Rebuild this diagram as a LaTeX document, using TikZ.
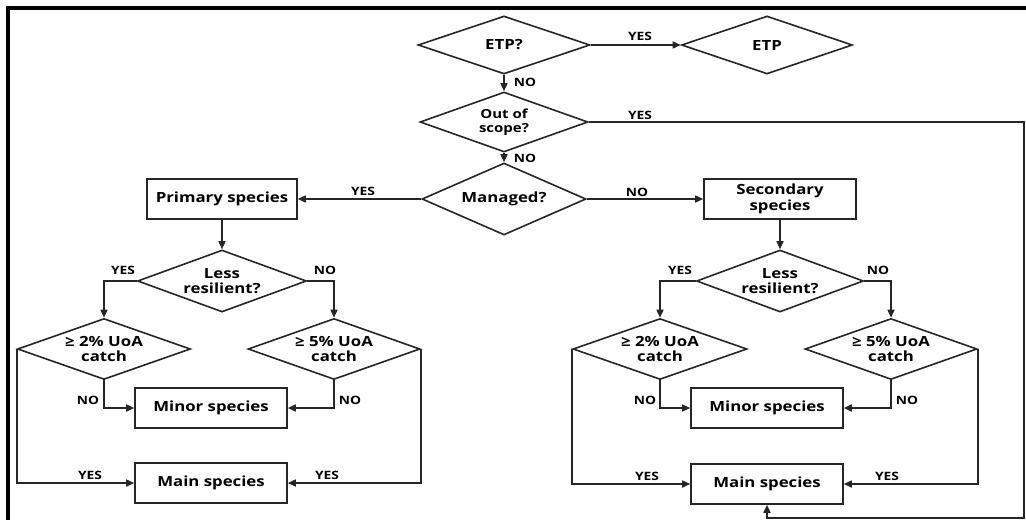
\documentclass[tikz,border=0pt]{standalone}
\usepackage{fontspec}
\setmainfont{Open Sans}[FakeStretch=1.2]
\usetikzlibrary{shapes.geometric,arrows.meta}
\begin{document}
\begin{tikzpicture}[x=1pt,y=-1pt,
  ln/.style={draw=black!85, line width=1.6pt},
  conn/.style={ln, -{Triangle[length=8pt,width=7pt]}},
  dia/.style={diamond, ln, inner sep=0pt, fill=white},
  box/.style={rectangle, ln, minimum width=152pt, minimum height=40pt, inner sep=0pt,
    align=center, font=\bfseries\fontsize{14}{15.5}\selectfont},
  dtxt/.style={align=center, inner sep=0pt, font=\bfseries\fontsize{14}{15.5}\selectfont},
  lab/.style={inner sep=0pt, font=\bfseries\fontsize{11.5}{12}\selectfont}]
\useasboundingbox (0,0) rectangle (1026,520);
% frame
\draw[line width=3.5pt, black] (8,520) -- (8,8) -- (1026,8);
% top decisions
\node[dia, minimum width=172pt, minimum height=58pt] (etpq) at (504,45) {};
\node[dtxt] (etpqt) at (etpq) {ETP?};
\node[dia, minimum width=171pt, minimum height=58pt] (etp) at (767,45) {};
\node[dtxt] (etpt) at (etp) {ETP};
\node[dia, minimum width=168pt, minimum height=60pt] (oos) at (504,122) {};
\node[dtxt, font=\bfseries\fontsize{12.5}{14.5}\selectfont] (oost) at (oos) {Out of\\scope?};
\node[dia, minimum width=164pt, minimum height=72pt] (man) at (504,199) {};
\node[dtxt] (mant) at (man) {Managed?};
% species boxes
\node[box, minimum width=150pt] (prim) at (222,199) {Primary species};
\node[box] (sec) at (780,199) {Secondary\\species};
% left branch
\node[dia, minimum width=169pt, minimum height=62pt] (lr1) at (222,281) {};
\node[dtxt] (lr1t) at (lr1) {Less\\resilient?};
\node[dia, minimum width=173pt, minimum height=61pt] (c21) at (104,349) {};
\node[dtxt] (c21t) at (c21) {≥ 2\% UoA\\catch};
\node[dia, minimum width=172pt, minimum height=61pt] (c51) at (334,349) {};
\node[dtxt] (c51t) at (c51) {≥ 5\% UoA\\catch};
\node[box] (min1) at (211,408) {Minor species};
\node[box] (main1) at (211,483) {Main species};
% right branch
\node[dia, minimum width=167pt, minimum height=62pt] (lr2) at (780,281) {};
\node[dtxt] (lr2t) at (lr2) {Less\\resilient?};
\node[dia, minimum width=174pt, minimum height=61pt] (c22) at (660,349) {};
\node[dtxt] (c22t) at (c22) {≥ 2\% UoA\\catch};
\node[dia, minimum width=172pt, minimum height=61pt] (c52) at (891,349) {};
\node[dtxt] (c52t) at (c52) {≥ 5\% UoA\\catch};
\node[box] (min2) at (767,408) {Minor species};
\node[box] (main2) at (767,484) {Main species};
% connectors top
\draw[conn] (etpq.east) -- (etp.west);
\draw[conn] (etpq.south) -- (oos.north);
\draw[conn] (oos.south) -- (man.north);
\coordinate (r1) at (1024,122);
\coordinate (r2) at (1024,518);
\draw[conn] (oos.east) -- (r1) -- (r2) -- (main2.south |- r2) -- (main2.south);
\draw[conn] (man.west) -- (prim.east);
\draw[conn] (man.east) -- (sec.west);
% left connectors
\draw[conn] (prim.south) -- (lr1.north);
\draw[conn] (lr1.west) -| (c21.north);
\draw[conn] (lr1.east) -| (c51.north);
\draw[conn] (c21.south) |- (min1.west);
\draw[conn] (c51.south) |- (min1.east);
\draw[conn] (c21.west) |- (main1.west);
\draw[conn] (c51.east) |- (main1.east);
% right connectors
\draw[conn] (sec.south) -- (lr2.north);
\draw[conn] (lr2.west) -| (c22.north);
\draw[conn] (lr2.east) -| (c52.north);
\draw[conn] (c22.south) |- (min2.west);
\draw[conn] (c52.south) |- (min2.east);
\draw[conn] (c22.west) |- (main2.west);
\draw[conn] (c52.east) |- (main2.east);
% labels
\node[lab] (l1) at (640,36) {YES};
\node[lab] (l2) at (525,82) {NO};
\node[lab] (l3) at (640,115) {YES};
\node[lab] (l4) at (525,158) {NO};
\node[lab] (l5) at (363,191) {YES};
\node[lab] (l6) at (637,192) {NO};
\node[lab] (l7) at (123,270) {YES};
\node[lab] (l8) at (325,270) {NO};
\node[lab] (l9) at (88,400) {NO};
\node[lab] (l10) at (350,400) {NO};
\node[lab] (l11) at (90,475) {YES};
\node[lab] (l12) at (327,475) {YES};
\node[lab] (l13) at (680,270) {YES};
\node[lab] (l14) at (878,270) {NO};
\node[lab] (l15) at (645,400) {NO};
\node[lab] (l16) at (907,400) {NO};
\node[lab] (l17) at (647,476) {YES};
\node[lab] (l18) at (887,476) {YES};
\end{tikzpicture}
\end{document}
